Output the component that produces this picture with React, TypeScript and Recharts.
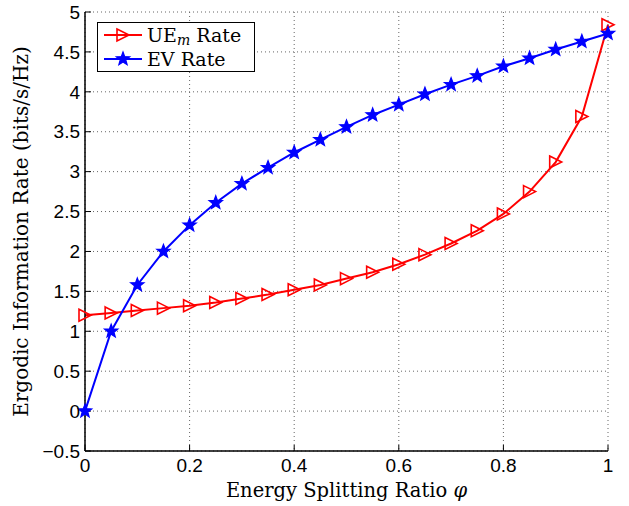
import { LineChart, Line, XAxis, YAxis, CartesianGrid } from "recharts";

// energy splitting ratio samples
const phi = [0, 0.05, 0.1, 0.15, 0.2, 0.25, 0.3, 0.35, 0.4, 0.45, 0.5, 0.55, 0.6, 0.65, 0.7, 0.75, 0.8, 0.85, 0.9, 0.95, 1];
const ueRate = [1.2, 1.23, 1.26, 1.29, 1.32, 1.36, 1.41, 1.46, 1.52, 1.58, 1.66, 1.74, 1.84, 1.96, 2.1, 2.26, 2.47, 2.75, 3.12, 3.69, 4.84];
const evRate = [0, 1.0, 1.58, 2.0, 2.33, 2.61, 2.85, 3.05, 3.24, 3.4, 3.56, 3.71, 3.84, 3.97, 4.09, 4.2, 4.32, 4.42, 4.53, 4.63, 4.73];
const xTicks = [0, 0.2, 0.4, 0.6, 0.8, 1];
const yTicks = [-0.5, 0, 0.5, 1, 1.5, 2, 2.5, 3, 3.5, 4, 4.5, 5];

const data = phi.map((p, i) => ({ phi: p, ue: ueRate[i], ev: evRate[i] }));

const SANS = "'Liberation Sans', Arial, sans-serif";
const SERIF = "'DejaVu Serif', 'Liberation Serif', serif";
const RED = "#ff0000";
const BLUE = "#0000ff";

const trianglePath = (cx: number, cy: number, s: number) =>
  `M${cx - s},${cy - s} L${cx + s},${cy} L${cx - s},${cy + s} Z`;

const starPath = (cx: number, cy: number, r: number) => {
  const pts: string[] = [];
  for (let k = 0; k < 10; k++) {
    const rr = k % 2 === 0 ? r : r * 0.42;
    const a = -Math.PI / 2 + (k * Math.PI) / 5;
    pts.push(`${(cx + rr * Math.cos(a)).toFixed(2)},${(cy + rr * Math.sin(a)).toFixed(2)}`);
  }
  return "M" + pts.join(" L") + " Z";
};

const TriDot = (props: any) => {
  const { cx, cy } = props;
  if (cx == null || cy == null) return null;
  return <path d={trianglePath(cx, cy, 6)} fill="none" stroke={RED} strokeWidth={1.6} />;
};

const StarDot = (props: any) => {
  const { cx, cy } = props;
  if (cx == null || cy == null) return null;
  return <path d={starPath(cx, cy, 7)} fill={BLUE} stroke={BLUE} strokeWidth={1.2} />;
};

const fmt = (v: number) => (v < 0 ? "\u2212" + Math.abs(v) : String(v));

const XTitle = (props: any) => {
  const vb = props.viewBox || {};
  return (
    <text x={vb.x + vb.width / 2} y={vb.y + 46} textAnchor="middle" fontFamily={SERIF} fontSize={19.5} fill="#000">
      Energy Splitting Ratio <tspan fontStyle="italic">φ</tspan>
    </text>
  );
};

const YTitle = (props: any) => {
  const vb = props.viewBox || {};
  const cy = vb.y + vb.height / 2;
  return (
    <text x={28} y={cy} transform={`rotate(-90, 28, ${cy})`} textAnchor="middle" fontFamily={SERIF} fontSize={20} fill="#000">
      Ergodic Information Rate (bits/s/Hz)
    </text>
  );
};

const LegendBox = () => (
  <div
    style={{
      position: "absolute",
      left: 97,
      top: 22,
      width: 158,
      height: 50,
      border: "1.5px solid #000",
      background: "#fff",
      boxSizing: "border-box",
      fontFamily: SERIF,
      fontSize: 19,
      color: "#000",
    }}
  >
    <svg width={50} height={46} style={{ position: "absolute", left: 0, top: 0 }}>
      <line x1={6} y1={12} x2={44} y2={12} stroke={RED} strokeWidth={2} />
      <path d={trianglePath(25, 12, 6)} fill="none" stroke={RED} strokeWidth={1.6} />
      <line x1={6} y1={36} x2={44} y2={36} stroke={BLUE} strokeWidth={2} />
      <path d={starPath(25, 36, 7)} fill={BLUE} stroke={BLUE} strokeWidth={1.2} />
    </svg>
    <div style={{ position: "absolute", left: 49, top: 0, lineHeight: "24px", whiteSpace: "nowrap" }}>
      UE<sub style={{ fontStyle: "italic", fontSize: 14, verticalAlign: "-3px" }}>m</sub> Rate
    </div>
    <div style={{ position: "absolute", left: 49, top: 24, lineHeight: "24px", whiteSpace: "nowrap" }}>EV Rate</div>
  </div>
);

export default function App() {
  return (
    <div style={{ position: "absolute", left: 0, top: 0, width: 629, height: 506, background: "#fff" }}>
      <LineChart width={629} height={506} data={data} margin={{ top: 12, right: 21, bottom: 0, left: 0 }}>
        <CartesianGrid strokeDasharray="1 3" stroke="#666" />
        <XAxis
          dataKey="phi"
          type="number"
          domain={[0, 1]}
          ticks={xTicks}
          tickFormatter={fmt}
          tickSize={-6}
          tickMargin={14}
          height={55}
          axisLine={{ stroke: "#000", strokeWidth: 1.5 }}
          tickLine={{ stroke: "#000" }}
          tick={{ fill: "#000", fontSize: 19, fontFamily: SANS }}
          label={{ content: XTitle }}
        />
        <XAxis
          xAxisId="top"
          orientation="top"
          type="number"
          domain={[0, 1]}
          ticks={xTicks}
          tick={false}
          tickSize={-6}
          height={0}
          axisLine={{ stroke: "#000", strokeWidth: 1.5 }}
          tickLine={{ stroke: "#000" }}
        />
        <YAxis
          type="number"
          domain={[-0.5, 5]}
          ticks={yTicks}
          tickFormatter={fmt}
          tickSize={-6}
          tickMargin={11}
          width={85}
          interval={0}
          axisLine={{ stroke: "#000", strokeWidth: 1.5 }}
          tickLine={{ stroke: "#000" }}
          tick={{ fill: "#000", fontSize: 19, fontFamily: SANS }}
          label={{ content: YTitle }}
        />
        <YAxis
          yAxisId="right"
          orientation="right"
          type="number"
          domain={[-0.5, 5]}
          ticks={yTicks}
          tick={false}
          tickSize={-6}
          width={0}
          axisLine={{ stroke: "#000", strokeWidth: 1.5 }}
          tickLine={{ stroke: "#000" }}
        />
        <Line
          type="linear"
          dataKey="ue"
          stroke={RED}
          strokeWidth={2}
          dot={<TriDot />}
          activeDot={false}
          isAnimationActive={false}
        />
        <Line
          type="linear"
          dataKey="ev"
          stroke={BLUE}
          strokeWidth={2}
          dot={<StarDot />}
          activeDot={false}
          isAnimationActive={false}
        />
      </LineChart>
      <LegendBox />
    </div>
  );
}
